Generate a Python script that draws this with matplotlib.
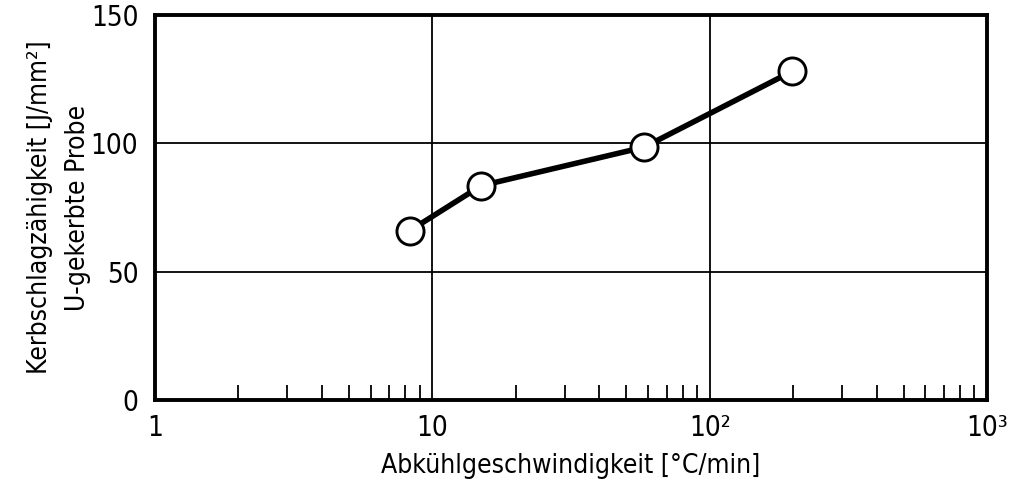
import matplotlib
matplotlib.use("Agg")
import matplotlib.pyplot as plt
from matplotlib.ticker import FixedLocator, LogLocator, NullFormatter

plt.rcParams['font.family'] = ['DejaVu Sans']
plt.rcParams['font.stretch'] = 'condensed'

cooling_rate = [8.3, 15.0, 58.0, 198.0]
impact = [66, 83.5, 98.5, 128]
x_ticks = [1, 10, 100, 1000]
x_tick_labels = ["1", "10", "10²", "10³"]
y_ticks = [0, 50, 100, 150]
y_tick_labels = ["0", "50", "100", "150"]

fig = plt.figure(figsize=(10.24, 4.92), dpi=100)
ax = fig.add_axes([155/1024, 1 - 400/492, (987-155)/1024, (400-15)/492])

ax.set_xscale('log')
ax.set_xlim(1, 1000)
ax.set_ylim(0, 150)

for yv in [50, 100]:
    ax.axhline(yv, color='black', lw=1.3, zorder=1)
for xv in [10, 100]:
    ax.axvline(xv, color='black', lw=1.3, zorder=1)

ax.plot(cooling_rate, impact, color='black', lw=4.0, marker='o', markersize=19.5,
        markerfacecolor='white', markeredgecolor='black', markeredgewidth=2.1,
        zorder=3, clip_on=False)

ax.xaxis.set_major_locator(FixedLocator(x_ticks))
ax.set_xticklabels(x_tick_labels)
ax.xaxis.set_minor_locator(LogLocator(base=10, subs=range(2, 10)))
ax.xaxis.set_minor_formatter(NullFormatter())
ax.set_yticks(y_ticks)
ax.set_yticklabels(y_tick_labels)

ax.tick_params(axis='x', which='minor', direction='in', length=11, width=1.3, bottom=True, top=False)
ax.tick_params(axis='x', which='major', direction='in', length=0, pad=10, labelsize=20)
ax.tick_params(axis='y', which='major', length=0, pad=12, labelsize=20)

for s in ax.spines.values():
    s.set_linewidth(2.8)

ax.set_xlabel("Abkühlgeschwindigkeit [°C/min]", fontsize=19, labelpad=8)
ax.set_ylabel("Kerbschlagzähigkeit [J/mm²]\nU-gekerbte Probe", fontsize=19, labelpad=0, linespacing=1.6)

fig.savefig("out.png", dpi=100)
